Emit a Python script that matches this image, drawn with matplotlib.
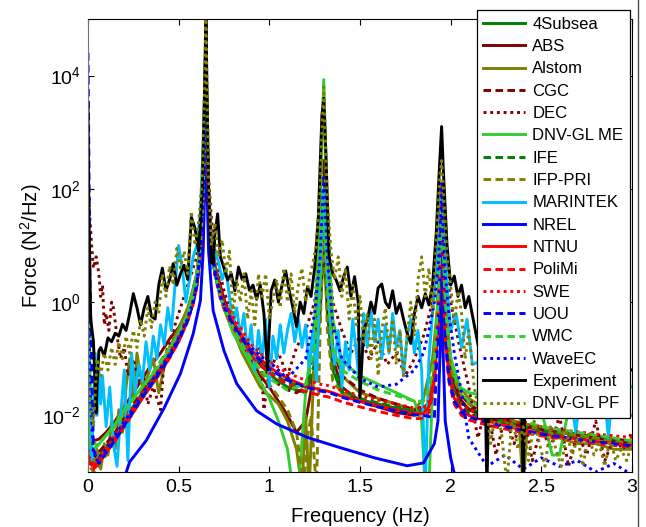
import numpy as np
import matplotlib
matplotlib.use("Agg")
import matplotlib.pyplot as plt
from matplotlib.lines import Line2D

plt.rcParams['font.family'] = ['Liberation Sans', 'DejaVu Sans']
plt.rcParams['mathtext.fontset'] = 'custom'
plt.rcParams['mathtext.rm'] = 'Liberation Sans'
plt.rcParams['mathtext.it'] = 'Liberation Sans:italic'
plt.rcParams['mathtext.bf'] = 'Liberation Sans:bold'

# ---------------- data (values are log10 of force PSD, N^2/Hz) ----------------
FREQ_MODEL = [0, 0.01, 0.03, 0.06, 0.1, 0.15, 0.2, 0.25, 0.3, 0.35,
              0.4, 0.45, 0.5, 0.55, 0.58, 0.6, 0.62, 0.635, 0.645, 0.65,
              0.655, 0.665, 0.68, 0.7, 0.73, 0.76, 0.8, 0.85, 0.9, 0.95,
              1.0, 1.1, 1.2, 1.25, 1.28, 1.3, 1.32, 1.35, 1.4, 1.5,
              1.6, 1.7, 1.8, 1.85, 1.88, 1.91, 1.93, 1.945, 1.95, 1.955,
              1.97, 1.99, 2.02, 2.06, 2.1, 2.2, 2.3, 2.4, 2.5, 2.6,
              2.7, 2.8, 2.9, 3.0]

LG_4SUBSEA = [-2.4, -2.7, -2.8, -2.72, -2.55, -2.33, -2.08, -1.84, -1.6, -1.38,
              -1.15, -0.9, -0.62, -0.27, 0.03, 0.33, 0.93, 1.83, 3.2, 5.3,
              3.2, 1.9, 1.05, 0.55, 0.15, -0.1, -0.38, -0.65, -0.92, -1.1,
              -1.28, -1.5, -1.6, -1.2, -0.2, 1.0, -0.2, -1.2, -1.6, -1.72,
              -1.8, -1.87, -1.93, -1.92, -1.78, -1.3, -0.3, 1.1, 2.0, 1.1,
              -0.4, -1.1, -1.55, -1.78, -1.88, -2.0, -2.08, -2.15, -2.22, -2.28,
              -2.33, -2.38, -2.42, -2.46]

LG_IFE = [-2.5, -2.75, -2.85, -2.77, -2.6, -2.38, -2.12, -1.88, -1.63, -1.4,
          -1.18, -0.93, -0.64, -0.29, 0.01, 0.31, 0.91, 1.81, 3.2, 5.3,
          3.2, 1.9, 1.05, 0.55, 0.15, -0.1, -0.36, -0.62, -0.88, -1.05,
          -1.22, -1.42, -1.5, -1.1, 0.0, 1.5, 0.0, -1.1, -1.55, -1.7,
          -1.78, -1.85, -1.92, -1.92, -1.8, -1.35, -0.4, 1.0, 2.0, 1.0,
          -0.55, -1.25, -1.65, -1.85, -1.95, -2.05, -2.13, -2.2, -2.27, -2.33,
          -2.38, -2.42, -2.46, -2.5]

LG_NTNU = [-2.7, -2.85, -2.9, -2.8, -2.62, -2.4, -2.15, -1.9, -1.66, -1.43,
           -1.2, -0.95, -0.66, -0.3, 0.0, 0.3, 0.9, 1.8, 3.2, 5.3,
           3.2, 1.9, 1.05, 0.55, 0.15, -0.1, -0.35, -0.6, -0.85, -1.0,
           -1.15, -1.35, -1.48, -1.52, -1.55, -1.56, -1.57, -1.6, -1.66, -1.75,
           -1.83, -1.9, -1.97, -1.97, -1.85, -1.4, -0.45, 1.0, 2.0, 1.0,
           -0.6, -1.3, -1.7, -1.9, -2.0, -2.1, -2.18, -2.25, -2.32, -2.37,
           -2.42, -2.46, -2.5, -2.53]

LG_POLIMI = [-2.75, -2.9, -2.95, -2.85, -2.66, -2.45, -2.2, -1.95, -1.7, -1.47,
             -1.24, -0.99, -0.7, -0.33, -0.03, 0.28, 0.88, 1.78, 3.1, 5.3,
             3.1, 1.85, 1.0, 0.48, 0.06, -0.2, -0.45, -0.7, -0.95, -1.1,
             -1.25, -1.45, -1.58, -1.62, -1.65, -1.66, -1.67, -1.7, -1.76, -1.85,
             -1.93, -2.0, -2.06, -2.05, -1.95, -1.5, -0.55, 0.9, 1.9, 0.9,
             -0.7, -1.4, -1.8, -2.0, -2.08, -2.17, -2.24, -2.3, -2.36, -2.41,
             -2.46, -2.5, -2.53, -2.56]

LG_SWE = [-2.6, -2.8, -2.85, -2.75, -2.57, -2.35, -2.1, -1.85, -1.6, -1.38,
          -1.15, -0.9, -0.6, -0.25, 0.05, 0.35, 0.95, 1.85, 3.2, 5.3,
          3.2, 1.95, 1.1, 0.62, 0.22, -0.02, -0.26, -0.5, -0.75, -0.9,
          -1.05, -1.25, -1.38, -1.42, -1.45, -1.46, -1.47, -1.5, -1.56, -1.65,
          -1.73, -1.8, -1.87, -1.87, -1.75, -1.3, -0.35, 1.1, 2.1, 1.1,
          -0.5, -1.2, -1.6, -1.8, -1.9, -2.0, -2.08, -2.14, -2.2, -2.25,
          -2.29, -2.33, -2.36, -2.39]

LG_UOU = [4.4, 0.5, -2.6, -2.85, -2.66, -2.44, -2.18, -1.93, -1.68, -1.45,
          -1.22, -0.97, -0.68, -0.32, -0.02, 0.28, 0.88, 1.78, 3.1, 5.2,
          3.1, 1.85, 1.02, 0.5, 0.1, -0.15, -0.4, -0.65, -0.88, -1.03,
          -1.18, -1.38, -1.5, -1.54, -1.57, -1.58, -1.59, -1.62, -1.68, -1.77,
          -1.85, -1.92, -1.99, -2.0, -2.02, -2.05, -0.5, 0.9, 1.9, 0.9,
          -0.6, -1.35, -1.75, -1.95, -2.03, -2.12, -2.2, -2.27, -2.33, -2.38,
          -2.43, -2.47, -2.5, -2.54]

LG_WMC = [-2.0, -2.5, -2.6, -2.5, -2.35, -2.2, -1.95, -1.72, -1.5, -1.28,
          -1.05, -0.8, -0.55, -0.2, 0.1, 0.4, 1.0, 1.9, 3.3, 5.3,
          3.3, 1.9, 1.0, 0.5, 0.1, -0.15, -0.45, -0.75, -1.0, -1.2,
          -1.35, -1.55, -1.45, -0.8, 0.3, 1.8, 0.3, -0.8, -1.2, -1.4,
          -1.55, -1.65, -1.75, -1.75, -1.55, -1.0, 0.0, 1.2, 2.0, 1.2,
          0.0, -0.8, -1.3, -1.6, -1.75, -1.9, -2.0, -2.1, -2.2, -2.25,
          -2.3, -2.35, -2.4, -2.45]

LG_WAVEEC = [1.2, -1.5, -2.7, -2.75, -2.58, -2.36, -2.12, -1.87, -1.63, -1.4,
             -1.17, -0.92, -0.63, -0.28, 0.02, 0.32, 0.92, 1.82, 3.2, 5.3,
             3.2, 1.9, 1.05, 0.55, 0.12, -0.12, -0.4, -0.62, -0.8, -0.95,
             -1.05, -1.35, -1.0, -0.2, 0.8, 2.2, 0.8, -0.4, -1.0, -1.35,
             -1.5, -1.45, -1.2, -0.9, -0.5, 0.0, 0.6, 1.5, 2.1, 1.5,
             0.5, -0.2, -0.9, -1.6, -2.4, -2.9, -2.7, -2.95, -2.75, -2.9,
             -2.8, -3.0, -2.85, -3.05]

FREQ_ABS_CGC = [0, 0.01, 0.03, 0.06, 0.1, 0.15, 0.2, 0.25, 0.3, 0.35,
                0.4, 0.45, 0.5, 0.55, 0.6, 0.62, 0.635, 0.645, 0.65, 0.655,
                0.665, 0.68, 0.7, 0.75, 0.8, 0.85, 0.9, 0.95, 1.0, 1.05,
                1.1, 1.15, 1.2, 1.25, 1.28, 1.3, 1.32, 1.35, 1.4, 1.5,
                1.6, 1.7, 1.8, 1.88, 1.91, 1.93, 1.95, 1.97, 2.0, 2.05,
                2.1, 2.2, 2.4, 2.6, 2.8, 3.0]
LG_ABS = [-1.5, -2.3, -2.45, -2.42, -2.3, -2.1, -1.85, -1.6, -1.35, -1.1,
          -0.9, -0.65, -0.45, -0.15, 0.5, 1.1, 2.0, 3.3, 5.3, 3.3,
          2.0, 1.1, 0.65, 0.05, -0.4, -0.75, -1.0, -1.3, -1.5, -1.75,
          -2.0, -2.3, -2.1, -1.2, 0.0, 1.2, 0.0, -1.0, -1.5, -1.75,
          -1.85, -1.95, -2.0, -1.8, -1.2, 0.0, 1.6, 0.0, -1.2, -1.7,
          -1.9, -2.05, -2.2, -2.3, -2.4, -2.5]
LG_CGC = [-2.2, -2.6, -2.7, -2.65, -2.5, -2.3, -2.05, -1.8, -1.55, -1.3,
          -1.05, -0.8, -0.55, -0.2, 0.4, 1.0, 1.9, 3.2, 5.3, 3.2,
          1.9, 1.0, 0.6, 0.0, -0.35, -0.65, -0.9, -1.1, -1.3, -1.45,
          -1.55, -1.6, -1.5, -0.8, 0.5, 2.5, 0.5, -0.8, -1.3, -1.55,
          -1.7, -1.8, -1.9, -1.8, -1.2, 0.0, 1.8, 0.0, -1.1, -1.6,
          -1.8, -2.0, -2.15, -2.3, -2.4, -2.45]

FREQ_ALSTOM = [0, 0.01, 0.03, 0.05, 0.07, 0.09, 0.11, 0.13, 0.15, 0.17,
               0.19, 0.21, 0.23, 0.25, 0.27, 0.3, 0.33, 0.36, 0.39, 0.42,
               0.45, 0.48, 0.51, 0.55, 0.58, 0.6, 0.62, 0.635, 0.645, 0.65,
               0.655, 0.665, 0.68, 0.7, 0.73, 0.76, 0.8, 0.85, 0.9, 0.95,
               1.0, 1.05, 1.1, 1.15, 1.18, 1.2, 1.22, 1.25, 1.28, 1.3,
               1.32, 1.35, 1.4, 1.5, 1.6, 1.7, 1.8, 1.85, 1.9, 1.93,
               1.95, 1.97, 2.0, 2.05, 2.1, 2.2, 2.3, 2.38, 2.4, 2.42,
               2.5, 2.6, 2.7, 2.8, 2.9, 3.0]
LG_ALSTOM = [-2.0, -2.8, -2.9, -2.6, -2.95, -2.5, -2.7, -2.1, -2.6, -1.9,
             -2.3, -1.5, -1.0, -1.7, -0.9, -1.5, -1.3, -1.0, -1.6, -1.15,
             -0.8, -0.6, -0.4, -0.1, 0.2, 0.5, 1.0, 1.9, 3.3, 5.3,
             3.3, 1.9, 1.0, 0.5, 0.1, -0.2, -0.5, -0.9, -1.2, -1.5,
             -1.65, -1.8, -2.1, -2.6, -3.3, -2.0, -3.3, -0.8, 0.8, 2.0,
             0.8, -0.8, -1.3, -1.6, -1.7, -1.8, -1.9, -1.7, -1.0, 0.0,
             1.8, 0.0, -1.0, -1.5, -1.7, -1.9, -2.1, -2.3, -3.3, -2.3,
             -2.3, -2.4, -2.5, -2.5, -2.6, -2.6]

FREQ_DEC = [0, 0.01, 0.02, 0.03, 0.045, 0.06, 0.07, 0.08, 0.09, 0.1,
            0.115, 0.13, 0.14, 0.16, 0.18, 0.2, 0.22, 0.25, 0.28, 0.3,
            0.33, 0.36, 0.4, 0.42, 0.45, 0.48, 0.5, 0.55, 0.6, 0.62,
            0.635, 0.645, 0.65, 0.655, 0.665, 0.68, 0.7, 0.75, 0.8, 0.85,
            0.9, 0.95, 0.97, 1.0, 1.05, 1.1, 1.15, 1.2, 1.25, 1.28,
            1.3, 1.32, 1.35, 1.4, 1.45, 1.5, 1.55, 1.6, 1.65, 1.7,
            1.75, 1.8, 1.85, 1.9, 1.93, 1.95, 1.97, 2.0, 2.05, 2.1,
            2.15, 2.2, 2.25, 2.3, 2.35, 2.4, 2.45, 2.5, 2.55, 2.6,
            2.65, 2.7, 2.75, 2.8, 2.85, 2.9, 2.95, 3.0]
LG_DEC = [2.2, 1.5, 1.0, 0.6, 0.8, 0.5, 0.1, 0.3, -0.4, -0.2,
          -0.5, 0.0, -0.1, -0.6, -1.0, -0.8, -1.3, -1.0, -1.4, -1.2,
          -1.8, -1.5, -1.9, -1.0, -0.7, -0.4, -0.2, 0.3, 0.8, 1.5,
          2.2, 3.4, 5.2, 3.4, 2.2, 1.5, 0.9, 0.2, -0.3, -0.6,
          -1.0, -0.8, -1.9, -1.2, -0.9, -1.3, -0.8, -0.5, 0.0, 1.0,
          2.0, 1.0, 0.0, -0.5, -0.9, -0.6, -1.0, -0.7, -1.1, -0.9,
          -1.3, -1.0, -0.6, 0.0, 0.8, 1.8, 0.8, 0.0, -0.8, -1.5,
          -2.4, -1.8, -2.7, -2.0, -2.5, -1.9, -2.8, -2.2, -2.6, -2.0,
          -2.9, -2.3, -2.7, -2.1, -2.8, -2.4, -2.6, -2.3]

FREQ_DNVGL_ME = [0, 0.005, 0.02, 0.05, 0.1, 0.15, 0.2, 0.3, 0.4, 0.5,
                 0.55, 0.6, 0.62, 0.635, 0.645, 0.65, 0.655, 0.665, 0.68, 0.7,
                 0.75, 0.8, 0.9, 1.0, 1.05, 1.1, 1.13, 1.16, 1.2, 1.25,
                 1.28, 1.3, 1.32, 1.35, 1.4, 1.5, 1.6, 1.7, 1.8, 1.84,
                 1.86, 1.88, 1.9, 1.93, 1.95, 1.97, 2.0, 2.05, 2.1, 2.3,
                 2.5, 2.56, 2.6, 2.65, 2.8, 3.0]
LG_DNVGL_ME = [1.3, -0.5, -2.4, -2.55, -2.35, -2.15, -1.9, -1.5, -1.1, -0.55,
               -0.2, 0.5, 1.1, 1.9, 3.3, 5.3, 3.3, 1.9, 1.1, 0.6,
               -0.1, -0.55, -1.1, -1.7, -2.1, -2.6, -3.3, -3.3, -1.6, -0.3,
               1.5, 3.93, 1.5, -0.3, -1.05, -1.3, -1.45, -1.6, -1.75, -2.1,
               -3.3, -3.3, -1.5, 0.0, 2.0, 0.0, -1.0, -1.5, -1.6, -1.7,
               -1.9, -2.7, -2.7, -1.9, -1.9, -2.0]

FREQ_IFP = [0, 0.01, 0.03, 0.06, 0.1, 0.15, 0.2, 0.3, 0.4, 0.5,
            0.55, 0.6, 0.62, 0.635, 0.645, 0.65, 0.655, 0.665, 0.68, 0.7,
            0.75, 0.8, 0.9, 1.0, 1.1, 1.15, 1.19, 1.21, 1.23, 1.26,
            1.28, 1.3, 1.32, 1.35, 1.4, 1.5, 1.6, 1.7, 1.8, 1.88,
            1.91, 1.93, 1.95, 1.97, 2.0, 2.05, 2.1, 2.2, 2.3, 2.4,
            2.5, 2.6, 2.7, 2.8, 2.9, 3.0]
LG_IFP = [-2.5, -2.9, -3.0, -2.9, -2.7, -2.45, -2.2, -1.7, -1.25, -0.7,
          -0.35, 0.3, 0.9, 1.8, 3.2, 5.3, 3.2, 1.8, 1.0, 0.5,
          -0.05, -0.45, -1.0, -1.45, -1.9, -2.3, -3.3, -2.4, -2.0, -3.3,
          -0.5, 1.5, -0.5, -1.4, -1.6, -1.75, -1.85, -1.92, -1.98, -1.8,
          -1.2, 0.0, 1.8, 0.0, -1.2, -1.6, -1.8, -1.95, -2.05, -2.15,
          -2.2, -2.3, -2.35, -2.4, -2.45, -2.5]

FREQ_MARINTEK = [0, 0.01, 0.02, 0.03, 0.04, 0.05, 0.06, 0.07, 0.08, 0.1,
                 0.12, 0.14, 0.16, 0.18, 0.2, 0.22, 0.24, 0.26, 0.28, 0.3,
                 0.32, 0.34, 0.36, 0.38, 0.4, 0.42, 0.44, 0.46, 0.48, 0.5,
                 0.52, 0.54, 0.56, 0.58, 0.6, 0.62, 0.635, 0.645, 0.65, 0.655,
                 0.665, 0.68, 0.7, 0.72, 0.74, 0.76, 0.78, 0.8, 0.82, 0.84,
                 0.86, 0.88, 0.9, 0.92, 0.94, 0.96, 0.98, 1.0, 1.02, 1.04,
                 1.06, 1.08, 1.1, 1.12, 1.14, 1.16, 1.18, 1.2, 1.22, 1.24,
                 1.26, 1.28, 1.3, 1.32, 1.34, 1.36, 1.38, 1.4, 1.42, 1.44,
                 1.46, 1.48, 1.5, 1.52, 1.54, 1.56, 1.58, 1.6, 1.62, 1.64,
                 1.66, 1.68, 1.7, 1.72, 1.74, 1.76, 1.78, 1.8, 1.82, 1.84,
                 1.86, 1.88, 1.9, 1.92, 1.94, 1.95, 1.96, 1.98, 2.0, 2.03,
                 2.06, 2.09, 2.12, 2.2, 2.3, 2.4, 2.5, 2.6, 2.66, 2.69,
                 2.72, 2.8, 2.85, 2.87, 2.89, 2.95, 3.0]
LG_MARINTEK = [-1.0, -2.5, -2.8, -1.8, -0.9, -2.0, -1.2, -1.8, -1.3, -2.2,
               -1.5, -2.5, -2.9, -2.0, -1.2, -2.8, -0.9, -1.6, -1.1, -1.4,
               -0.7, -1.2, -0.6, -1.0, -0.4, -0.75, -0.1, -0.5, 0.3, 1.0,
               0.6, 0.0, 0.4, 0.8, 1.0, 1.6, 2.8, 4.1, 3.6, 2.5,
               1.5, 0.6, 0.9, 0.7, 0.4, 0.6, 0.1, -0.4, -0.1, -0.6,
               -0.2, -0.9, -0.4, -1.2, -0.5, -1.0, -0.3, -1.5, -0.6, -1.0,
               -0.4, -0.9, -0.5, -0.2, -0.7, -0.3, -0.8, -0.4, -1.2, -0.5,
               -1.4, 0.5, 2.0, 0.4, -0.6, -1.1, -0.5, -1.5, -0.7, -1.2,
               -0.3, -0.9, -1.5, -0.2, -0.8, -0.15, -0.7, -0.3, -1.0, -0.4,
               -0.9, -0.2, -0.8, -0.5, -1.3, -0.6, -0.3, -0.9, -0.5, -1.2,
               -3.3, -1.0, -0.2, 0.5, 1.5, 2.0, 1.4, 0.3, -0.5, -0.2,
               -0.8, -0.3, -1.1, -1.0, -1.4, -1.1, -1.5, -1.2, -1.6, -2.3,
               -1.5, -1.3, -1.7, -2.4, -1.6, -1.4, -1.5]

FREQ_NREL = [0.18, 0.23, 0.32, 0.42, 0.51, 0.58, 0.62, 0.635, 0.645, 0.65,
             0.655, 0.665, 0.69, 0.75, 0.82, 0.93, 1.04, 1.21, 1.39, 1.58,
             1.76, 1.85, 1.91, 1.93, 1.945, 1.95, 1.955, 1.97, 2.0, 2.04]
LG_NREL = [-3.3, -2.82, -2.45, -1.87, -1.26, -0.56, 0.03, 0.9, 2.2, 4.3,
           2.2, 0.9, -0.15, -0.86, -1.44, -1.92, -2.15, -2.39, -2.57, -2.75,
           -2.89, -2.84, -2.5, -2.1, -0.5, 1.2, -0.5, -2.1, -2.75, -3.3]

FREQ_EXP = [0, 0.005, 0.015, 0.03, 0.045, 0.05, 0.06, 0.07, 0.09, 0.11,
            0.13, 0.15, 0.17, 0.19, 0.21, 0.23, 0.25, 0.27, 0.29, 0.31,
            0.33, 0.35, 0.37, 0.39, 0.41, 0.43, 0.45, 0.47, 0.49, 0.51,
            0.53, 0.55, 0.57, 0.59, 0.61, 0.63, 0.645, 0.65, 0.655, 0.665,
            0.68, 0.69, 0.7, 0.715, 0.73, 0.75, 0.77, 0.79, 0.81, 0.83,
            0.85, 0.87, 0.89, 0.91, 0.93, 0.95, 0.97, 0.99, 1.01, 1.03,
            1.05, 1.07, 1.09, 1.11, 1.13, 1.15, 1.17, 1.19, 1.21, 1.23,
            1.25, 1.27, 1.29, 1.3, 1.31, 1.33, 1.35, 1.37, 1.39, 1.41,
            1.43, 1.45, 1.47, 1.49, 1.5, 1.52, 1.54, 1.56, 1.58, 1.6,
            1.62, 1.64, 1.66, 1.68, 1.7, 1.72, 1.74, 1.76, 1.78, 1.8,
            1.82, 1.84, 1.86, 1.88, 1.9, 1.92, 1.94, 1.95, 1.96, 1.98,
            2.0, 2.02, 2.04, 2.06, 2.08, 2.1, 2.13, 2.16, 2.19, 2.2,
            2.21, 2.24, 2.28, 2.32, 2.36, 2.39, 2.4, 2.41, 2.45, 2.5,
            2.6, 2.7, 2.8, 2.9, 3.0]
LG_EXP = [3.5, 1.5, -0.3, -0.7, -1.96, -1.5, -0.86, -0.8, -0.95, -0.63,
          -0.7, -0.55, -0.6, -0.39, -0.5, -0.2, 0.15, -0.1, -0.4, -0.1,
          0.1, -0.25, -0.3, 0.3, 0.6, 0.2, 0.4, 0.68, 0.3, 0.5,
          0.65, 0.4, 1.5, 1.3, 0.9, 2.0, 4.0, 5.3, 4.0, 2.0,
          0.7, 0.68, 1.2, 1.56, 0.8, 0.6, 0.39, 0.5, 0.2, 0.62,
          0.4, 0.5, 0.21, 0.3, 0.05, 0.3, -0.2, -1.2, 0.2, 0.39,
          0.0, 0.3, 0.55, 0.2, -0.1, -0.43, 0.0, -0.2, 0.27, 0.1,
          0.6, 1.5, 3.3, 3.6, 2.8, 0.8, 0.5, 0.38, 0.2, 0.45,
          0.62, 0.1, 0.45, 0.0, -1.68, -0.5, -0.32, 0.0, -0.2, 0.25,
          0.32, 0.0, -0.1, 0.2, -0.2, -0.02, -0.3, -0.55, -0.73, -0.2,
          0.1, -0.1, 0.15, -0.05, 0.3, 1.2, 2.5, 3.1, 2.3, 1.0,
          0.3, 0.46, 0.1, 0.3, -0.1, 0.1, -0.4, -0.9, -1.5, -3.3,
          -1.6, -1.2, -1.0, -1.3, -1.1, -1.6, -3.3, -1.6, -1.3, -1.0,
          -1.2, -1.0, -1.3, -1.1, -1.2]

FREQ_PF = [0, 0.01, 0.03, 0.05, 0.07, 0.09, 0.11, 0.13, 0.15, 0.17,
           0.19, 0.21, 0.23, 0.25, 0.27, 0.29, 0.31, 0.33, 0.35, 0.37,
           0.39, 0.41, 0.43, 0.45, 0.47, 0.49, 0.51, 0.53, 0.55, 0.57,
           0.59, 0.61, 0.63, 0.645, 0.65, 0.655, 0.665, 0.68, 0.7, 0.72,
           0.74, 0.76, 0.78, 0.8, 0.82, 0.84, 0.86, 0.88, 0.9, 0.92,
           0.94, 0.96, 0.98, 1.0, 1.02, 1.04, 1.06, 1.08, 1.1, 1.12,
           1.14, 1.16, 1.18, 1.2, 1.22, 1.24, 1.26, 1.28, 1.29, 1.3,
           1.31, 1.32, 1.34, 1.36, 1.38, 1.4, 1.42, 1.44, 1.46, 1.48,
           1.5, 1.52, 1.54, 1.56, 1.58, 1.6, 1.62, 1.64, 1.66, 1.68,
           1.7, 1.72, 1.74, 1.76, 1.78, 1.8, 1.82, 1.84, 1.86, 1.88,
           1.9, 1.92, 1.94, 1.95, 1.96, 1.98, 2.0, 2.02, 2.04, 2.06,
           2.08, 2.1, 2.13, 2.16, 2.19, 2.22, 2.25, 2.28, 2.31, 2.34,
           2.37, 2.4, 2.43, 2.46, 2.49, 2.52, 2.55, 2.58, 2.61, 2.64,
           2.67, 2.7, 2.73, 2.76, 2.79, 2.82, 2.85, 2.88, 2.91, 2.94,
           2.97, 3.0]
LG_PF = [-1.2, -1.8, -2.2, -1.0, -1.3, -0.9, -1.2, -0.8, -1.1, -0.7,
         -1.0, -0.6, -0.9, -0.5, -0.8, -0.3, -0.6, -0.1, -0.45, 0.0,
         -0.2, 0.5, 0.1, 0.64, 0.3, 0.95, 0.6, 0.9, 0.5, 1.6,
         1.0, 1.4, 2.2, 4.0, 5.3, 4.0, 2.2, 1.0, 1.4, 0.8,
         1.1, 0.5, 0.9, -0.2, 0.4, 0.0, 0.5, -0.3, 0.2, -0.4,
         0.5, 0.1, 0.5, -0.3, 0.03, 0.4, -0.1, 0.6, 0.0, 0.5,
         -0.2, 0.3, 0.6, 0.0, 0.4, 0.7, 1.0, 2.0, 3.0, 3.8,
         2.8, 1.8, 0.9, 0.4, 0.8, 0.1, 0.6, -0.3, 0.3, -0.4,
         0.1, -0.7, -0.2, -1.0, -0.3, -1.3, -0.5, -0.1, -0.9, -0.3,
         -1.1, -0.5, -1.3, -0.6, 0.0, -0.6, 0.4, 0.8, 0.1, 0.6,
         -0.2, 1.0, 2.2, 2.5, 2.0, 0.8, 0.3, -0.4, 0.2, -0.2,
         -1.0, -0.5, -1.5, -2.0, -1.6, -2.5, -1.9, -2.3, -3.2, -2.0,
         -2.6, -2.2, -2.8, -2.1, -2.5, -2.9, -2.2, -2.6, -2.9, -2.3,
         -2.7, -2.4, -2.9, -2.3, -2.7, -2.5, -2.9, -2.4, -2.8, -2.6,
         -2.8, -2.5]

LABELS = ['4Subsea', 'ABS', 'Alstom', 'CGC', 'DEC', 'DNV-GL ME', 'IFE', 'IFP-PRI',
          'MARINTEK', 'NREL', 'NTNU', 'PoliMi', 'SWE', 'UOU', 'WMC', 'WaveEC',
          'Experiment', 'DNV-GL PF']

X_TICKS = [0, 0.5, 1, 1.5, 2, 2.5, 3]
X_TICK_LABELS = ['0', '0.5', '1', '1.5', '2', '2.5', '3']
Y_TICKS = [1e-2, 1e0, 1e2, 1e4]
Y_TICK_LABELS = [r'$10^{-2}$', r'$10^{0}$', r'$10^{2}$', r'$10^{4}$']

# ---------------- styles ----------------
DG = (0, 0.5, 0)
DR = (0.5, 0, 0)
OL = (0.5, 0.5, 0)
LG = (0.2, 0.8, 0.2)
CY = (0, 0.75, 1)
BL = (0, 0, 1)
RD = (1, 0, 0)
SOLID = '-'
DASH = (0, (2.6, 1.5))
DOT = (0, (1.0, 1.3))

series = [
    (FREQ_MODEL, LG_4SUBSEA, DG, SOLID),
    (FREQ_ABS_CGC, LG_ABS, DR, SOLID),
    (FREQ_ALSTOM, LG_ALSTOM, OL, SOLID),
    (FREQ_ABS_CGC, LG_CGC, DR, DASH),
    (FREQ_DEC, LG_DEC, DR, DOT),
    (FREQ_DNVGL_ME, LG_DNVGL_ME, LG, SOLID),
    (FREQ_MODEL, LG_IFE, DG, DASH),
    (FREQ_IFP, LG_IFP, OL, DASH),
    (FREQ_MARINTEK, LG_MARINTEK, CY, SOLID),
    (FREQ_NREL, LG_NREL, BL, SOLID),
    (FREQ_MODEL, LG_NTNU, RD, SOLID),
    (FREQ_MODEL, LG_POLIMI, RD, DASH),
    (FREQ_MODEL, LG_SWE, RD, DOT),
    (FREQ_MODEL, LG_UOU, BL, DASH),
    (FREQ_MODEL, LG_WMC, LG, DASH),
    (FREQ_MODEL, LG_WAVEEC, BL, DOT),
    (FREQ_EXP, LG_EXP, 'k', SOLID),
    (FREQ_PF, LG_PF, OL, DOT),
]

W, H = 646, 527
fig = plt.figure(figsize=(W / 100, H / 100), dpi=100)
ax = fig.add_axes([88 / W, 1 - 472 / H, (632 - 88) / W, (472 - 19) / H])

for (f, lg, col, ls), lab in zip(series, LABELS):
    ax.plot(np.asarray(f), 10.0 ** np.asarray(lg), color=col, linestyle=ls,
            linewidth=2.1, label=lab)

ax.set_yscale('log')
ax.set_xlim(0, 3)
ax.set_ylim(1e-3, 1e5)
ax.set_xticks(X_TICKS)
ax.set_xticklabels(X_TICK_LABELS)
ax.set_yticks(Y_TICKS)
ax.set_yticklabels(Y_TICK_LABELS)
ax.yaxis.set_minor_locator(matplotlib.ticker.NullLocator())
ax.tick_params(axis='both', which='major', direction='in', top=True, right=True,
               length=4, width=0.8, labelsize=14, pad=5)
ax.set_xlabel('Frequency (Hz)', fontsize=14.5, labelpad=8)
ax.set_ylabel('Force (N$^2$/Hz)', fontsize=14.5, labelpad=-1)
for sp in ax.spines.values():
    sp.set_linewidth(0.8)
ax.spines['left'].set_color('0.45')

leg = ax.legend(loc='upper right', bbox_to_anchor=((630 - 88) / 544, (472 - 10) / 453),
                borderaxespad=0, fontsize=12, frameon=True, fancybox=False,
                framealpha=1, edgecolor='k', handlelength=2.5, handletextpad=0.45,
                labelspacing=0.44, borderpad=0.4)
leg.get_frame().set_linewidth(0.9)

fig.add_artist(Line2D([638 / W, 638 / W], [0, 1], transform=fig.transFigure,
                      color='0.3', linewidth=1.0))

fig.savefig('out.png', dpi=100)
